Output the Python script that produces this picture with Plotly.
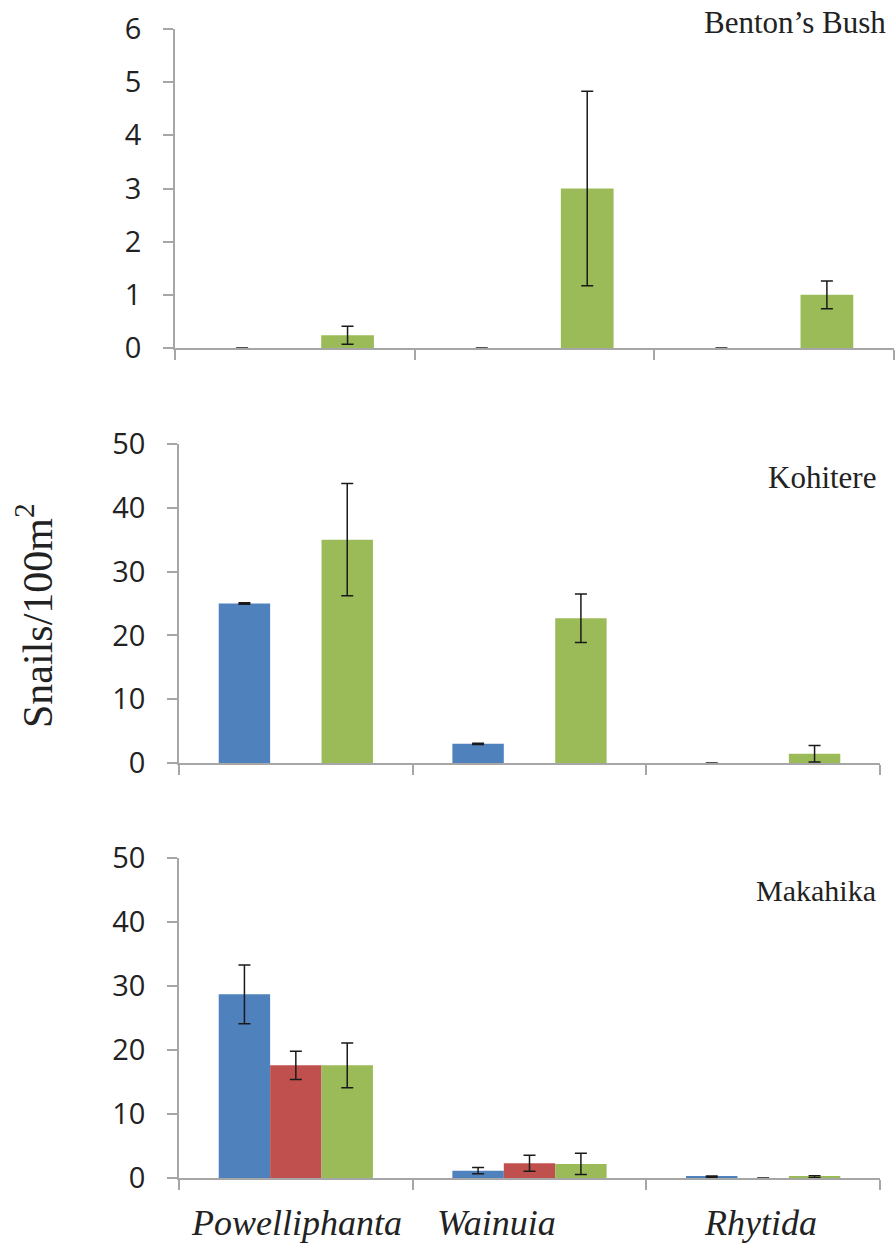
import plotly.graph_objects as go

categories = ["Powelliphanta", "Wainuia", "Rhytida"]
series_names = ["Blue", "Red", "Green"]
colors = ["#4F81BD", "#C0504D", "#9BBB59"]

# Benton's Bush
benton_blue = [0, 0, 0]
benton_red = [None, None, None]
benton_green = [0.24, 3.0, 1.0]
benton_blue_err = [0, 0, 0]
benton_red_err = [0, 0, 0]
benton_green_err = [0.17, 1.83, 0.26]

# Kohitere
kohitere_blue = [25.0, 3.0, 0]
kohitere_red = [None, None, None]
kohitere_green = [35.0, 22.7, 1.45]
kohitere_blue_err = [0.1, 0.1, 0]
kohitere_red_err = [0, 0, 0]
kohitere_green_err = [8.8, 3.8, 1.3]

# Makahika
makahika_blue = [28.7, 1.15, 0.2]
makahika_red = [17.6, 2.3, 0.0]
makahika_green = [17.6, 2.2, 0.2]
makahika_blue_err = [4.6, 0.5, 0.1]
makahika_red_err = [2.2, 1.25, 0]
makahika_green_err = [3.5, 1.65, 0.15]

panels = [
    ("Benton\u2019s Bush", [benton_blue, benton_red, benton_green],
     [benton_blue_err, benton_red_err, benton_green_err], [0, 6], 1),
    ("Kohitere", [kohitere_blue, kohitere_red, kohitere_green],
     [kohitere_blue_err, kohitere_red_err, kohitere_green_err], [0, 50], 10),
    ("Makahika", [makahika_blue, makahika_red, makahika_green],
     [makahika_blue_err, makahika_red_err, makahika_green_err], [0, 50], 10),
]

W, H = 896, 1247
# pixel boxes: (x0, x1, ytop, ybottom)
boxes = [(175, 894, 29, 348), (179, 880, 444, 763), (179, 880, 858, 1178)]
label_pos = [(888, 22), (878, 477), (878, 890)]
label_size = [31, 31, 30]
cat_shift = [1, -33, -3]

fig = go.Figure()
axis_color = "#A6A6A6"
tick_font = dict(family="Open Sans, Lato, sans-serif", size=29, color="#222222")
serif = "Liberation Serif, DejaVu Serif, serif"

for i, (name, vals, errs, yrange, dtick) in enumerate(panels):
    n = i + 1
    xa = "x" if n == 1 else f"x{n}"
    ya = "y" if n == 1 else f"y{n}"
    for s in range(3):
        fig.add_trace(go.Bar(
            x=categories, y=vals[s], name=series_names[s],
            marker=dict(color=colors[s], line=dict(width=0)),
            error_y=dict(type="data", array=errs[s], visible=True,
                         color="#1a1a1a", thickness=1.5, width=6),
            xaxis=xa, yaxis=ya, showlegend=False,
        ))
    x0, x1, yt, yb = boxes[i]
    xkey = "xaxis" if n == 1 else f"xaxis{n}"
    ykey = "yaxis" if n == 1 else f"yaxis{n}"
    fig.layout[xkey] = dict(
        domain=[x0 / W, x1 / W], anchor=ya, type="category",
        categoryorder="array", categoryarray=categories,
        showline=True, linecolor=axis_color, linewidth=1.5,
        ticks="outside", tickson="boundaries", ticklen=10,
        tickcolor=axis_color, tickwidth=1.5,
        showticklabels=False, showgrid=False, zeroline=False,
        range=[-0.5, 2.5], automargin=False,
    )
    fig.layout[ykey] = dict(
        domain=[1 - yb / H, 1 - yt / H], anchor=xa,
        range=yrange, dtick=dtick, tick0=0,
        showline=True, linecolor=axis_color, linewidth=1.5,
        ticks="outside", ticklen=10, tickcolor=axis_color, tickwidth=1.5,
        tickfont=tick_font, showgrid=False, zeroline=False,
        ticklabelstandoff=16, automargin=False,
    )
    lx, ly = label_pos[i]
    fig.add_annotation(
        text=name, x=lx / W, y=1 - ly / H, xref="paper", yref="paper",
        xanchor="right", yanchor="middle", showarrow=False,
        font=dict(family=serif, size=label_size[i], color="#222222"),
    )

# Category labels under bottom panel
for c, sh in zip(categories, cat_shift):
    fig.add_annotation(
        text=f"<i>{c}</i>", x=c, y=1 - 1223 / H, xref="x3", yref="paper",
        xanchor="center", yanchor="middle", showarrow=False, xshift=sh,
        font=dict(family=serif, size=36, color="#222222"),
    )

# Y-axis title
fig.add_annotation(
    text="Snails/100m<sup>2</sup>", x=34 / W, y=1 - 616 / H,
    xref="paper", yref="paper", textangle=-90,
    xanchor="center", yanchor="middle", showarrow=False,
    font=dict(family=serif, size=42, color="#222222"),
)

fig.update_layout(
    width=W, height=H, margin=dict(l=0, r=0, t=0, b=0, autoexpand=False),
    paper_bgcolor="white", plot_bgcolor="white",
    barmode="group", bargap=0.34, bargroupgap=0,
)

fig.write_html("out.html")
